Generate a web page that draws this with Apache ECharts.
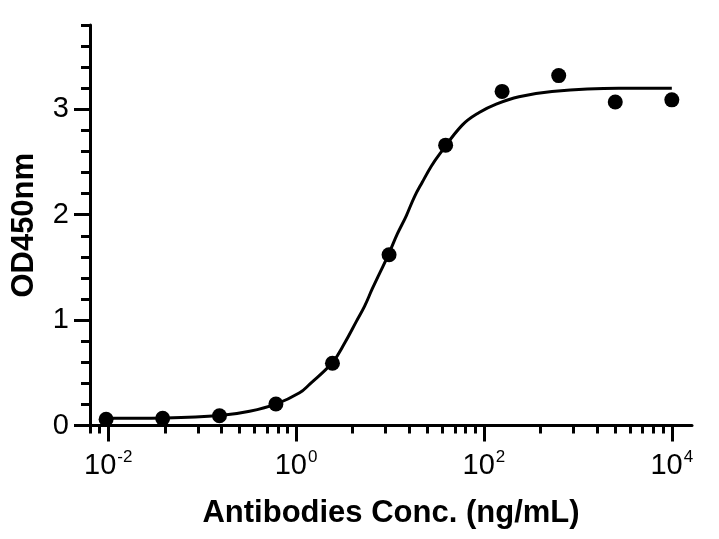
<!DOCTYPE html>
<html>
<head>
<meta charset="utf-8">
<script src="https://cdn.jsdelivr.net/npm/echarts@6/dist/echarts.min.js"></script>
<style>
html,body{margin:0;padding:0;background:#fff;}
#main{width:719px;height:539px;}
</style>
</head>
<body>
<div id="main"></div>
<script>
// Measured points (concentration ng/mL, OD450)
var pointConc = [0.0095, 0.038, 0.153, 0.61, 2.44, 9.77, 39.1, 156, 625, 2500, 10000];
var pointOD   = [0.059, 0.068, 0.093, 0.204, 0.59, 1.62, 2.66, 3.17, 3.32, 3.07, 3.09];

// Fitted curve
var curveConc = [0.0095, 0.039, 0.155, 0.32, 0.62, 1.09, 1.39, 2.45, 3.28, 4.4, 5.35, 6.5, 9.6, 12.0, 14.9, 18.2, 22.1, 27.5, 33.4, 58.7, 89, 135, 236, 530, 2720, 10000];
var curveOD   = [0.068, 0.072, 0.094, 0.135, 0.205, 0.31, 0.39, 0.60, 0.78, 0.99, 1.13, 1.30, 1.62, 1.82, 1.99, 2.17, 2.31, 2.46, 2.57, 2.85, 2.97, 3.05, 3.12, 3.17, 3.20, 3.20];

// Axis ticks
var xMajorTicks = [0.01, 1, 100, 10000];
var xMajorExp   = ['-2', '0', '2', '4'];
var xMinorTicks = [0.0064, 0.0081, 0.04, 0.09, 0.16, 0.25, 0.36, 0.49, 0.64, 0.81,
                   4, 9, 16, 25, 36, 49, 64, 81, 400, 900, 1600, 2500, 3600, 4900, 6400, 8100];
var yMajorTicks = [0, 1, 2, 3];
var yMinorTicks = [0.2, 0.4, 0.6, 0.8, 1.2, 1.4, 1.6, 1.8, 2.2, 2.4, 2.6, 2.8, 3.2, 3.4, 3.6, 3.8];

var xTitle = 'Antibodies Conc. (ng/mL)';
var yTitle = 'OD450nm';

var FONT = '"Liberation Sans", Arial, Helvetica, sans-serif';
var X_MIN = 0.0064, X_MAX = 16400, Y_MIN = 0, Y_MAX = 3.8;

function zip(a, b) { return a.map(function (v, i) { return [v, b[i]]; }); }

var chart = echarts.init(document.getElementById('main'), null, {renderer: 'canvas'});
var lineStyle = {color: '#000', width: 3};

chart.setOption({
  animation: false,
  backgroundColor: '#fff',
  grid: {left: 90, right: 27, top: 25, bottom: 113.5, containLabel: false},
  xAxis: [{
    type: 'log', logBase: 10, min: X_MIN, max: X_MAX,
    position: 'bottom',
    axisLine: {show: true, onZero: false, lineStyle: lineStyle},
    axisTick: {show: true, length: 16, lineStyle: lineStyle, customValues: xMajorTicks},
    axisLabel: {
      show: true, margin: 23, customValues: xMajorTicks,
      formatter: function (v) {
        var i = xMajorTicks.indexOf(v);
        var e = i >= 0 ? xMajorExp[i] : String(Math.round(Math.log10(v)));
        return '{b|10}{s|' + e + '}';
      },
      rich: {
        b: {fontSize: 29, fontFamily: FONT, color: '#000', lineHeight: 32, verticalAlign: 'bottom'},
        s: {fontSize: 17, fontFamily: FONT, color: '#000', lineHeight: 32, verticalAlign: 'top', padding: [0, 0, 0, 1]}
      }
    },
    splitLine: {show: false},
    name: xTitle, nameLocation: 'middle', nameGap: 72,
    nameTextStyle: {fontSize: 31, fontWeight: 'bold', fontFamily: FONT, color: '#000'}
  }, {
    type: 'log', logBase: 10, min: X_MIN, max: X_MAX,
    position: 'bottom', offset: 0,
    axisLine: {show: false},
    axisTick: {show: true, length: 8, lineStyle: lineStyle, customValues: xMinorTicks},
    axisLabel: {show: false},
    splitLine: {show: false}
  }],
  yAxis: [{
    type: 'value', min: Y_MIN, max: Y_MAX,
    position: 'left',
    axisLine: {show: true, onZero: false, lineStyle: lineStyle},
    axisTick: {show: true, length: 16, lineStyle: lineStyle, customValues: yMajorTicks},
    axisLabel: {
      show: true, margin: 21, customValues: yMajorTicks,
      fontSize: 29, fontFamily: FONT, color: '#000'
    },
    splitLine: {show: false},
    name: yTitle, nameLocation: 'middle', nameGap: 50, nameRotate: 90,
    nameTextStyle: {fontSize: 31, fontWeight: 'bold', fontFamily: FONT, color: '#000'}
  }, {
    type: 'value', min: Y_MIN, max: Y_MAX,
    position: 'left', offset: 0,
    axisLine: {show: false},
    axisTick: {show: true, length: 9, lineStyle: lineStyle, customValues: yMinorTicks},
    axisLabel: {show: false},
    splitLine: {show: false}
  }],
  series: [{
    type: 'line',
    xAxisIndex: 0, yAxisIndex: 0,
    data: zip(curveConc, curveOD),
    smooth: 0.4,
    symbol: 'none',
    lineStyle: {color: '#000', width: 3},
    z: 2
  }, {
    type: 'scatter',
    xAxisIndex: 0, yAxisIndex: 0,
    data: zip(pointConc, pointOD),
    symbol: 'circle',
    symbolSize: 15,
    itemStyle: {color: '#000', opacity: 1},
    z: 3
  }]
});
</script>
</body>
</html>
